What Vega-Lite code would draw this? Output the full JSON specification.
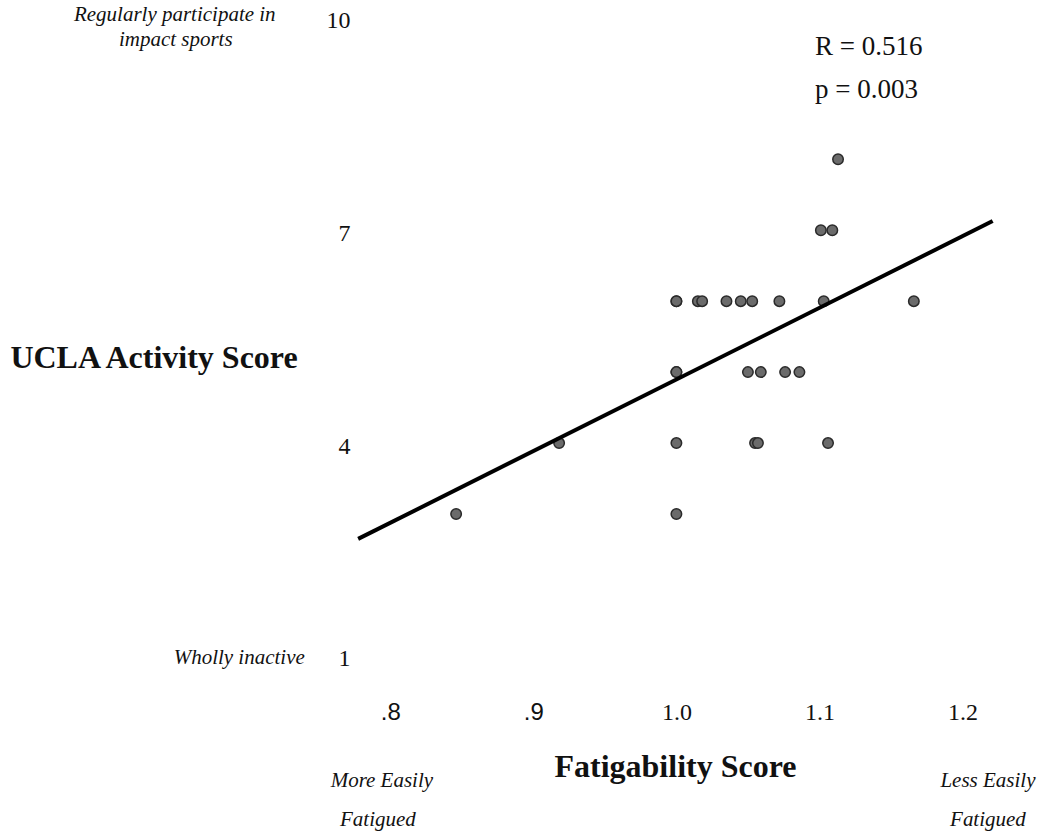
{
  "$schema": "https://vega.github.io/schema/vega-lite/v6.json",
  "autosize": {"type": "none"},
  "width": 678,
  "height": 638.5,
  "padding": {"left": 356, "top": 17.4, "right": 6, "bottom": 180},
  "background": "white",
  "config": {"view": {"stroke": null}, "font": "Liberation Serif"},
  "datasets": {
    "points": [
      {"fatigability": 1.113, "ucla": 8},
      {"fatigability": 1.101, "ucla": 7},
      {"fatigability": 1.109, "ucla": 7},
      {"fatigability": 1.000, "ucla": 6},
      {"fatigability": 1.000, "ucla": 6},
      {"fatigability": 1.015, "ucla": 6},
      {"fatigability": 1.018, "ucla": 6},
      {"fatigability": 1.035, "ucla": 6},
      {"fatigability": 1.045, "ucla": 6},
      {"fatigability": 1.053, "ucla": 6},
      {"fatigability": 1.072, "ucla": 6},
      {"fatigability": 1.103, "ucla": 6},
      {"fatigability": 1.166, "ucla": 6},
      {"fatigability": 1.000, "ucla": 5},
      {"fatigability": 1.000, "ucla": 5},
      {"fatigability": 1.050, "ucla": 5},
      {"fatigability": 1.059, "ucla": 5},
      {"fatigability": 1.076, "ucla": 5},
      {"fatigability": 1.086, "ucla": 5},
      {"fatigability": 0.918, "ucla": 4},
      {"fatigability": 1.000, "ucla": 4},
      {"fatigability": 1.055, "ucla": 4},
      {"fatigability": 1.057, "ucla": 4},
      {"fatigability": 1.106, "ucla": 4},
      {"fatigability": 0.846, "ucla": 3},
      {"fatigability": 1.000, "ucla": 3}
    ],
    "fit": [
      {"fatigability": 0.7775, "ucla": 2.649},
      {"fatigability": 1.2211, "ucla": 7.129}
    ],
    "stats": [
      {"label": "R = 0.516", "fatigability": 1.0969, "ucla": 9.583},
      {"label": "p = 0.003", "fatigability": 1.0969, "ucla": 8.977}
    ],
    "notesCenter": [
      {"label": "Regularly participate in", "fatigability": 0.6493, "ucla": 10.034},
      {"label": "impact sports", "fatigability": 0.650, "ucla": 9.682},
      {"label": "More Easily", "fatigability": 0.7941, "ucla": -0.7635},
      {"label": "Fatigued", "fatigability": 0.7913, "ucla": -1.313},
      {"label": "Less Easily", "fatigability": 1.2178, "ucla": -0.7635},
      {"label": "Fatigued", "fatigability": 1.2178, "ucla": -1.313}
    ],
    "notesRight": [
      {"label": "Wholly inactive", "fatigability": 0.7402, "ucla": 0.97}
    ]
  },
  "layer": [
    {
      "data": {"name": "points"},
      "mark": {"type": "circle", "size": 110, "fill": "#6b6b6b", "fillOpacity": 1, "stroke": "#2a2a2a", "strokeWidth": 1.5},
      "encoding": {
        "x": {
          "field": "fatigability", "type": "quantitative",
          "scale": {"domain": [0.776, 1.25], "nice": false, "zero": false},
          "axis": {
            "values": [0.8, 0.9, 1.0, 1.1, 1.2],
            "labelExpr": "datum.value < 0.95 ? '.' + format(datum.value * 10, '.0f') : format(datum.value, '.1f')",
            "domain": false, "ticks": false, "tickSize": 0, "grid": false,
            "labelFont": {"condition": {"test": "datum.value < 0.95", "value": "Liberation Sans"}, "value": "Liberation Serif"},
            "labelFontSize": 24, "labelColor": "#111111",
            "labelBaseline": "middle", "labelPadding": 57,
            "title": "Fatigability Score",
            "titleFont": "Liberation Serif", "titleFontWeight": "bold", "titleFontSize": 32, "titleColor": "#111111",
            "titleX": 319, "titleY": 111, "titleBaseline": "middle", "titleAlign": "center"
          }
        },
        "y": {
          "field": "ucla", "type": "quantitative",
          "scale": {"domain": [1, 10], "nice": false, "zero": false},
          "axis": {
            "values": [1, 4, 7, 10],
            "format": "d",
            "domain": false, "ticks": false, "tickSize": 0, "grid": false,
            "labelFont": "Liberation Serif", "labelFontSize": 24, "labelColor": "#111111",
            "labelPadding": 6, "labelOffset": 3,
            "title": "UCLA Activity Score",
            "titleFont": "Liberation Serif", "titleFontWeight": "bold", "titleFontSize": 32, "titleColor": "#111111",
            "titleAngle": 0, "titleX": -202.5, "titleY": 340, "titleBaseline": "middle", "titleAlign": "center"
          }
        }
      }
    },
    {
      "data": {"name": "fit"},
      "mark": {"type": "line", "color": "black", "strokeWidth": 4, "strokeCap": "butt"},
      "encoding": {
        "x": {"field": "fatigability", "type": "quantitative"},
        "y": {"field": "ucla", "type": "quantitative"}
      }
    },
    {
      "data": {"name": "stats"},
      "mark": {"type": "text", "align": "left", "baseline": "middle", "font": "Liberation Serif", "fontSize": 27, "color": "#111111"},
      "encoding": {
        "x": {"field": "fatigability", "type": "quantitative"},
        "y": {"field": "ucla", "type": "quantitative"},
        "text": {"field": "label"}
      }
    },
    {
      "data": {"name": "notesCenter"},
      "mark": {"type": "text", "align": "center", "baseline": "middle", "font": "Liberation Serif", "fontStyle": "italic", "fontSize": 21, "color": "#111111"},
      "encoding": {
        "x": {"field": "fatigability", "type": "quantitative"},
        "y": {"field": "ucla", "type": "quantitative"},
        "text": {"field": "label"}
      }
    },
    {
      "data": {"name": "notesRight"},
      "mark": {"type": "text", "align": "right", "baseline": "middle", "font": "Liberation Serif", "fontStyle": "italic", "fontSize": 21, "color": "#111111"},
      "encoding": {
        "x": {"field": "fatigability", "type": "quantitative"},
        "y": {"field": "ucla", "type": "quantitative"},
        "text": {"field": "label"}
      }
    }
  ]
}
